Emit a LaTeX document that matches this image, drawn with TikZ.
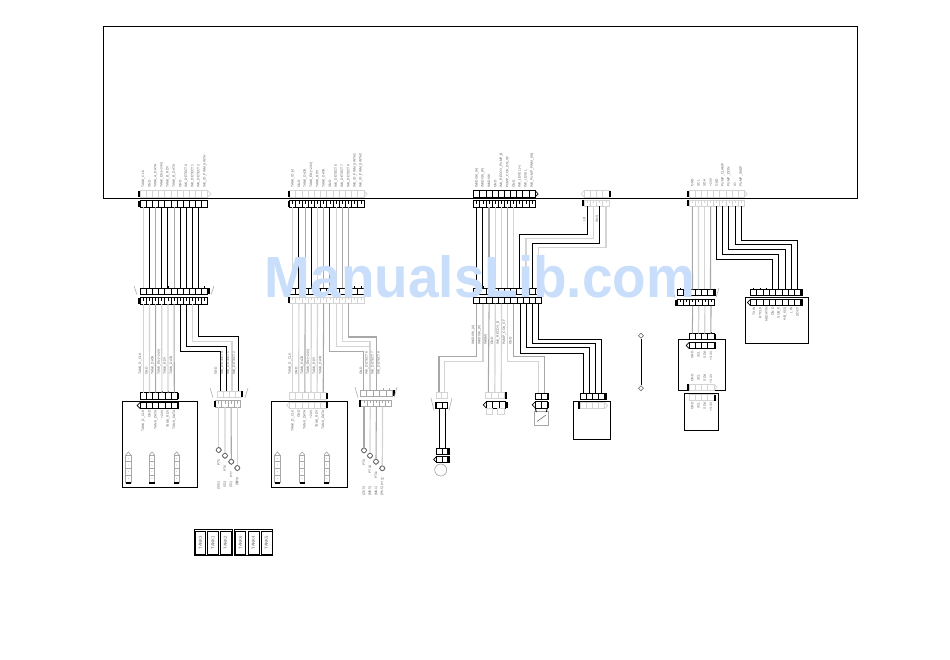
\documentclass[tikz,border=0pt]{standalone}
\usepackage{fontspec}
\usetikzlibrary{shapes.geometric}
\setmainfont{Liberation Sans}
\definecolor{wmblue}{HTML}{C9DEFA}
\definecolor{lg}{HTML}{D4D4D4}
\definecolor{mg}{HTML}{A8A8A8}
\definecolor{tg}{HTML}{606060}
\tikzset{
  wb/.style={draw=black,line width=.75pt},
  wg/.style={draw=mg,line width=.8pt},
  wl/.style={draw=lg,line width=.9pt},
  frameline/.style={draw=black,line width=.75pt},
  rowbox/.style={rectangle,inner sep=0pt,outer sep=0pt,minimum height=4.8pt,line width=.7pt},
  tiny/.style={rotate=90,inner sep=0pt,text=tg,font=\fontsize{2.5}{3}\selectfont},
  legtext/.style={rotate=90,inner sep=0pt,text=tg,font=\fontsize{3.2}{4}\selectfont},
  lampst/.style={circle,draw=tg,line width=.4pt,minimum size=3.8pt,inner sep=0pt},
  dia/.style={diamond,aspect=1,minimum size=4pt,inner sep=0pt},
}
% [mark]{name}{first pin x}{pitch}{cells}{top y}{colour}{bar L/R/N}{tip L/R/N}
\newcommand\Row[9][N]{%
  \pgfmathsetmacro\xa{#3-#4/2}\pgfmathsetmacro\xb{#3+#4*(#5-.5)}%
  \pgfmathsetmacro\xm{(\xa+\xb)/2}\pgfmathsetmacro\wdt{(\xb-\xa)*.75}%
  \pgfmathsetmacro\ym{#6+3.2}\pgfmathsetmacro\yb{#6+6.4}%
  \node[rowbox,draw=#7,minimum width=\wdt pt] (#2) at (\xm,\ym) {};%
  \foreach \i in {1,...,#5}{%
    \pgfmathsetmacro\xc{#3+#4*(\i-1)}\pgfmathsetmacro\xd{\xc-#4/2}%
    \coordinate (#2-\i-t) at (\xc,#6);\coordinate (#2-\i-b) at (\xc,\yb);%
    \ifnum\i>1 \draw[#7,line width=.5pt] (\xd,#6) -- (\xd,\yb);\fi
    \if#1T\draw[#7,line width=.5pt] (\xc,#6) -- ++(0,-1.6);\fi
    \if#1I\draw[#7,line width=.5pt] (\xc,#6) -- ++(0,2.8);\fi
  }%
  \if#8L\fill[black] (\xa-2,#6) rectangle (\xa,\yb);\fi
  \if#8R\fill[black] (\xb,#6) rectangle (\xb+2,\yb);\fi
  \if#9R\draw[#7,line width=.5pt] (\xb,#6) -- (\xb+3,\ym) -- (\xb,\yb);\fi
  \if#9L\draw[#7,line width=.5pt] (\xa,#6) -- (\xa-3,\ym) -- (\xa,\yb);\fi
}
\newcommand\Elbow[4]{\coordinate (ey) at (0,#4);\draw[#1] (#2) -- (#2 |- ey) -- (#3 |- ey) -- (#3);}
% {anchor}{y}{first x}{pitch}{prefix}{texts}
\newcommand\Labs[6]{\foreach \t [count=\c] in {#6}{\pgfmathsetmacro\lx{#3+#4*(\c-1)}\node[tiny,anchor=#1] (#5\c) at (\lx,#2) {\t};}}
\newcommand\Lamp[3]{\node[lampst] (#1) at (#2,#3) {};\draw[tg,line width=.35pt] (#1.north) -- (#1.east) -- (#1.south) -- (#1.west) -- cycle;}
% vertical socket drawn in a tank box
\newcommand\VConn[2]{%
  \draw[mg,line width=.5pt] (#1,#2) rectangle (#1+5.3,#2+27);
  \draw[mg,line width=.5pt] (#1,#2) -- (#1+2.65,#2-3) -- (#1+5.3,#2);
  \foreach \k in {1,2,3}{\draw[mg,line width=.4pt] (#1,#2+6.7*\k) -- (#1+5.3,#2+6.7*\k);}
  \foreach \k in {0,1,2,3}{\fill[tg] (#1+2.65,#2+3.3+6.7*\k) circle (.3);}
  \fill[black] (#1,#2+27) rectangle (#1+5.3,#2+28.6);
}
\newcommand\Flare[4]{\draw[mg,line width=.4pt] (#1-3,#3-1) -- (#1,#4+.6);\draw[mg,line width=.4pt] (#2+3,#3-1) -- (#2,#4+.6);}
\begin{document}
\begin{tikzpicture}[x=.75pt,y=-.75pt]
\useasboundingbox (0,0) rectangle (950,660);
\fill[white] (0,0) rectangle (950,660);
\node[frameline,rectangle,inner sep=0pt,minimum width=565.5pt,minimum height=128.25pt] (mainframe) at (480,112.5) {};

%% ---------- group 1
\Labs{west}{188}{143.3}{6.15}{la}{TANK\_CLK,GND,TANK\_A\_DATA,TANK\_EN(+24V),TANK\_B\_RDY,TANK\_B\_DATA,GND,INK\_DETECT0,INK\_DETECT1,INK\_DETECT2,INK\_ID\_PWM\_SWTH}
\Row{g1a}{143.3}{6.15}{11}{190.7}{lg}{L}{R}
\Row{g1b}{143.3}{6.15}{11}{200.7}{black}{L}{N}
\Row[T]{g1c}{143.3}{6.15}{11}{288}{black}{R}{N}
\Row[I]{g1d}{143.3}{6.15}{11}{297.7}{black}{L}{N}
\Flare{137}{211}{287}{294}
\foreach \p/\s in {1/wl,2/wb,3/wg,4/wb,5/wb,6/wg,7/wb,8/wb,9/wb,10/wb}{\draw[\s] (g1b-\p-b) -- (g1c-\p-t);}
\Row[T]{g1e}{143.3}{6.2}{6}{392.7}{black}{R}{N}
\Row{g1f}{143.3}{6.2}{6}{402.3}{black}{R}{L}
\foreach \p/\s in {1/wl,2/wl,3/wg,4/wl,5/wl,6/wg}{\draw[\s] (g1d-\p-b) -- (g1e-\p-t);}
\Row[T]{g1g}{220}{6}{4}{391}{lg}{R}{N}
\Row[I]{g1h}{218.7}{6.2}{4}{400.7}{mg}{L}{N}
\Flare{213}{245}{389}{397}
\Elbow{wb}{g1d-7-b}{g1g-1-t}{351.7}
\Elbow{wb}{g1d-8-b}{g1g-2-t}{346.7}
\Elbow{wl}{g1d-9-b}{g1g-3-t}{341.7}
\Elbow{wb}{g1d-10-b}{g1g-4-t}{336.7}
\node[rectangle,draw=black,line width=.75pt,inner sep=0,minimum width=56.5pt,minimum height=64.5pt] (tank1) at (160,444.3) {};
\Labs{west}{375}{140.3}{6.2}{lb}{TANK\_D\_CLK,GND,TANK\_DATA,TANK\_EN(+24V),TANK\_RDY,TANK\_DATA}
\Labs{west}{375}{215.7}{0}{lc}{GND}
\Labs{west}{375}{222.3}{6}{ld}{INK\_DETECT0,INK\_DETECT1,INK\_DETECT2}
\Labs{east}{410}{143.3}{6.2}{le}{TANK\_D\_CLK,GND,TANK\_DATA,+24V,TANK\_RDY,TANK\_DATA}
\VConn{125.7}{455}\VConn{149.3}{455}\VConn{174}{455}
\Lamp{p1}{218.7}{450}\Lamp{p2}{225}{455.7}\Lamp{p3}{231.3}{461.7}\Lamp{p4}{237.3}{468}
\draw[wl] (g1h-1-b) -- (p1.north);\draw[wl] (g1h-2-b) -- (p2.north);\draw[wg] (g1h-3-b) -- (p3.north);\draw[wl] (g1h-4-b) -- (p4.north);
\node[tiny,anchor=east] (l1) at (218.7,459) {PT5};\node[tiny,anchor=east] (l2) at (225,465) {PT6};\node[tiny,anchor=east] (l3) at (231.3,471) {PT7};\node[tiny,anchor=east] (l4) at (237.3,477) {PT8};
\Labs{east}{481}{218.7}{6.2}{lf}{(SS1),(S2),(S1),(S)}

%% ---------- group 2
\Labs{west}{188}{292.7}{6.2}{ma}{TANK\_ID\_M,GND,TANK\_DATA,TANK\_EN(+24V),TANK\_RDY,TANK\_DATA,GND,INK\_DETECT6,INK\_DETECT7,INK\_DETECT8,INK\_ID\_PWM\_SWTH1,INK\_ID\_PWM\_SWTH2}
\Row{g2a}{292.7}{6.2}{12}{190.7}{lg}{L}{R}
\Row[I]{g2b}{292.7}{6.2}{12}{200.7}{black}{L}{N}
\Row[T]{g2c}{292.7}{6.2}{12}{288}{black}{N}{N}
\Row[I]{g2d}{292.7}{6.2}{12}{297}{lg}{L}{N}
\foreach \p/\s in {1/wl,2/wb,3/wg,4/wb,5/wl,6/wg,7/wb,8/wl,9/wg,10/wg}{\draw[\s] (g2b-\p-b) -- (g2c-\p-t);}
\Row[T]{g2e}{292.7}{6.1}{6}{392.7}{lg}{R}{N}
\Row{g2f}{292.7}{6.1}{6}{402}{lg}{R}{L}
\foreach \p/\s in {1/wl,2/wl,3/wg,4/wl,5/wl,6/wg}{\draw[\s] (g2d-\p-b) -- (g2e-\p-t);}
\Row[T]{g2g}{363.5}{6.5}{5}{390}{mg}{R}{N}
\Row[I]{g2h}{364}{6.2}{5}{400.3}{mg}{L}{N}
\Flare{358}{394}{388}{397}
\Elbow{wg}{g2d-7-b}{g2g-1-t}{351.7}
\Elbow{wl}{g2d-8-b}{g2g-2-t}{346.7}
\Elbow{wl}{g2d-9-b}{g2g-2-t}{341.7}
\Elbow{wg}{g2d-10-b}{g2g-3-t}{337}
\node[rectangle,draw=black,line width=.75pt,inner sep=0,minimum width=57pt,minimum height=64.5pt] (tank2) at (309.7,444.3) {};
\Labs{west}{375}{290}{6.1}{mb}{TANK\_D\_CLK,GND,TANK\_DATA,TANK\_EN(+24V),TANK\_RDY,TANK\_DATA}
\Labs{west}{375}{361}{0}{mc}{GND}
\Labs{west}{375}{366.7}{6.1}{md}{INK\_DETECT6,INK\_DETECT7,INK\_DETECT8}
\Labs{east}{410}{292.7}{6.1}{me}{TANK\_D\_CLK,GND,TANK\_DATA,+24V,TANK\_RDY,TANK\_DATA}
\VConn{274.7}{455}\VConn{299.5}{455}\VConn{324}{455}
\Lamp{q1}{364}{450.3}\Lamp{q2}{370}{455.7}\Lamp{q3}{376}{461.7}\Lamp{q4}{382.3}{468.3}
\draw[wg] (g2h-1-b) -- (q1.north);\draw[wl] (g2h-2-b) -- (q2.north);\draw[wg] (g2h-3-b) -- (q3.north);\draw[wl] (g2h-4-b) -- (q4.north);
\node[tiny,anchor=east] (m1) at (364,459) {PT9};\node[tiny,anchor=east] (m2) at (370,465) {PT10};\node[tiny,anchor=east] (m3) at (376,471) {PT11};\node[tiny,anchor=east] (m4) at (382.3,477) {PT12};
\Labs{east}{486}{364}{6.1}{mf}{(Z6.5),(M6.5),(M6.1),(P6.5)}

%% ---------- group 3
\Labs{west}{188}{476.7}{6.15}{na}{INKDISK\_(A),INKDISK\_(P),INKDISK,GND,INK\_RECOV\_PUMP\_B,PUMP\_COV\_DN\_SF,GND,INK\_LEVEL(+),INK\_LEVEL,INK\_PUMP\_PWM\_(IN)}
\Row{g3a}{476.7}{6.15}{10}{190.7}{black}{N}{R}
\Row[I]{g3b}{476.7}{6.15}{10}{200.7}{black}{N}{N}
\Row[T]{g3c}{476.7}{6.15}{11}{288}{black}{N}{N}
\Row{g3d}{476.7}{6.2}{11}{297.3}{black}{N}{N}
\foreach \p/\s in {1/wb,2/wb,3/wg,4/wl,5/wl,6/wg,7/wl}{\draw[\s] (g3b-\p-b) -- (g3c-\p-t);}
\Row{g3e}{587.3}{6.2}{4}{190.7}{lg}{R}{L}
\Row[I]{g3f}{587.3}{6.2}{4}{200}{lg}{L}{N}
\Elbow{wb}{g3f-1-b}{g3c-8-t}{234.3}
\Elbow{wl}{g3f-2-b}{g3c-9-t}{238.3}
\Elbow{wb}{g3f-3-b}{g3c-10-t}{243.3}
\Elbow{wl}{g3f-4-b}{g3c-11-t}{247.3}
\node[tiny] (n1) at (584.3,219) {LB};\node[tiny] (n2) at (597,219) {SNS};
\Labs{west}{345}{473.3}{6.2}{nb}{INKDISK\_(A),INKDISK\_(P),INK(M),GND,INK\_RECOV\_B,PUMP\_COV\_SF,GND}
% left socket
\Row[T]{g3g}{439}{5.6}{2}{392.3}{lg}{N}{N}
\Row{g3h}{439.5}{5.6}{2}{402.3}{black}{L}{N}
\Flare{434}{449}{399}{410}
\Elbow{wg}{g3d-1-b}{g3g-1-t}{356.7}
\Elbow{wl}{g3d-2-b}{g3g-2-t}{361.7}
\Row{g3i}{439.5}{5.6}{2}{448.3}{black}{R}{N}
\Row{g3j}{439.5}{5.6}{2}{456.3}{black}{R}{L}
\draw[wb] (g3h-1-b) -- (g3i-1-t);\draw[wb] (g3h-2-b) -- (g3i-2-t);
\node[circle,draw=mg,line width=.5pt,minimum size=9pt,inner sep=0] (motor) at (440.7,470) {};
% middle socket
\Row[T]{g3k}{488.3}{6.5}{3}{392.3}{lg}{R}{N}
\Row{g3l}{489.5}{6.4}{3}{401.7}{black}{R}{L}
\draw[wg] (g3d-3-b) -- (g3k-1-t);\draw[wl] (g3d-4-b) -- (g3k-2-t);\draw[wl] (g3d-5-b) -- (g3k-3-t);
\node[rectangle,draw=lg,line width=.5pt,inner sep=0,minimum width=4.5pt,minimum height=4.4pt] (s1) at (489,411.2) {};
\node[rectangle,draw=lg,line width=.5pt,inner sep=0,minimum width=4.8pt,minimum height=4.4pt] (s2) at (501,411.2) {};
% right socket with switch
\Row[T]{g3m}{538.3}{6}{2}{393.3}{black}{R}{N}
\Row{g3n}{538.3}{6}{2}{401.7}{black}{R}{L}
\Elbow{wl}{g3d-6-b}{g3m-1-t}{361.7}
\Elbow{wg}{g3d-7-b}{g3m-2-t}{356.7}
\node[rectangle,draw=mg,line width=.5pt,inner sep=0,minimum width=10.5pt,minimum height=10pt] (sw) at (541.3,418.3) {};
\draw[black,line width=.6pt] (g3n.south west) -- ++(1,4);\draw[black,line width=.6pt] (g3n.south east) -- ++(-1,4);
\draw[tg,line width=.4pt] (537,421.5) -- (546,415);
% right socket to box
\Row[T]{g3o}{583.3}{6.1}{4}{393.3}{black}{R}{N}
\node[rectangle,draw=black,line width=.75pt,inner sep=0,minimum width=28pt,minimum height=28.5pt] (box3) at (592,420.3) {};
\Row{g3p}{583.3}{6.1}{4}{402.3}{lg}{L}{R}
\Elbow{wb}{g3d-8-b}{g3o-1-t}{353.3}
\Elbow{wb}{g3d-9-b}{g3o-2-t}{347.7}
\Elbow{wb}{g3d-10-b}{g3o-3-t}{343.3}
\Elbow{wb}{g3d-11-b}{g3o-4-t}{339}

%% ---------- diamond line
\node[dia,draw=tg,line width=.4pt] (d1) at (641,335.7) {};
\node[dia,draw=tg,line width=.4pt] (d2) at (641,388.3) {};
\draw[wb] (d1) -- (d2);

%% ---------- group 4
\Labs{west}{186.7}{692.3}{6.1}{ra}{GND,SCL,SDA,+24V,GND,PUMP\_CLAMP,PUMP\_DCIN,IO,PUMP\_SNSP}
\Row{g4a}{692.3}{6.1}{9}{190.7}{lg}{L}{R}
\Row[I]{g4b}{692.3}{6.1}{9}{200}{lg}{L}{N}
\Row[T]{g4c}{680.5}{6}{6}{289.3}{black}{R}{N}
\Row[I]{g4d}{680.5}{6.1}{6}{299.5}{black}{L}{N}
\Flare{675}{716}{289}{297}
\draw[wg] (g4b-1-b) -- (g4c-3-t);\draw[wl] (g4b-2-b) -- (g4c-4-t);\draw[wl] (g4b-3-b) -- (g4c-5-t);\draw[wg] (g4b-4-b) -- (g4c-6-t);
\Row[T]{g4e}{692.3}{6.2}{4}{333.5}{black}{R}{N}
\draw[wg] (g4d-3-b) -- (g4e-1-t);\draw[wl] (g4d-4-b) -- (g4e-2-t);\draw[wl] (g4d-5-b) -- (g4e-3-t);\draw[wg] (g4d-6-b) -- (g4e-4-t);
\node[rectangle,draw=black,line width=.75pt,inner sep=0,minimum width=35.5pt,minimum height=38pt] (box4) at (702,365.3) {};
\Row{g4f}{692.3}{6.2}{4}{342.3}{black}{R}{L}
\Labs{east}{351}{692.3}{6.2}{rb}{GND,SCL,SDA,+3.3V}
\Labs{east}{374}{692.3}{6.2}{rc}{GND,SCL,SDA,+3.3V}
\Row{g4g}{692.3}{6.2}{4}{384}{lg}{L}{R}
\node[rectangle,draw=black,line width=.75pt,inner sep=0,minimum width=25.5pt,minimum height=28pt] (box5) at (701.5,412) {};
\Row{g4h}{692.3}{6.2}{4}{394.5}{lg}{R}{N}
\Labs{east}{402}{692.3}{6.2}{rd}{GND,SCL,SDA,+3.3V}
\Row[T]{g4i}{753.6}{6.3}{8}{289.3}{black}{R}{N}
\node[rectangle,draw=black,line width=.75pt,inner sep=0,minimum width=47pt,minimum height=34.5pt] (box6) at (777,320.2) {};
\Row{g4j}{753.6}{6.3}{8}{299.3}{black}{R}{L}
\Labs{east}{307}{754}{6.2}{re}{TX W,RTCLK,HSDATIN,ON D,SUB\_K,H.B\_K(3),L W,DOUT}
\Elbow{wb}{g4b-5-b}{g4i-4-t}{259}
\Elbow{wb}{g4b-6-b}{g4i-5-t}{254.3}
\Elbow{wb}{g4b-7-b}{g4i-6-t}{249.3}
\Elbow{wb}{g4b-8-b}{g4i-7-t}{244.7}
\Elbow{wb}{g4b-9-b}{g4i-8-t}{240}

%% ---------- tank legend
\node[rectangle,draw=black,line width=.6pt,inner sep=0,minimum width=29pt,minimum height=20pt] (leg1) at (213.5,542.5) {};
\node[rectangle,draw=black,line width=.6pt,inner sep=0,minimum width=29pt,minimum height=20pt] (leg2) at (253.5,542.5) {};
\foreach \nm/\cx/\tx in {c1/200.3/TANK3,c2/213/TANK1,c3/225.5/TANK2,c4/240.3/TANK6,c5/253.5/TANK4,c6/266.5/TANK5}{
  \node[rectangle,draw=black,line width=.5pt,inner sep=0,minimum width=8pt,minimum height=17.5pt] (\nm) at (\cx,542.5) {};
  \node[legtext] at (\nm) {\tx};
}

%% ---------- watermark over everything
\node[anchor=base,inner sep=0,text=wmblue,xscale=.947,font=\fontsize{43.5}{46}\selectfont\bfseries] (wm) at (480,297) {ManualsLib.com};
\end{tikzpicture}
\end{document}
